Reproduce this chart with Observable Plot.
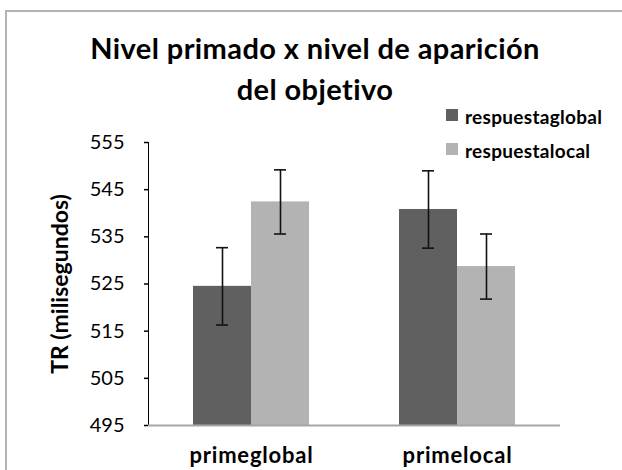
<!DOCTYPE html>
<html>
<head>
<meta charset="utf-8">
<script src="https://cdn.jsdelivr.net/npm/d3@7"></script>
<script src="https://cdn.jsdelivr.net/npm/@observablehq/plot@0.6"></script>
<style>
  html, body { margin: 0; padding: 0; background: #fff; }
  #wrap { position: relative; width: 622px; height: 470px; overflow: hidden; font-family: Lato, "Open Sans", sans-serif; }
  #frame { position: absolute; left: 5px; top: 10px; right: -10px; bottom: -10px; border-left: 2px solid #b3b3b3; border-top: 2px solid #b3b3b3; }
  #title { position: absolute; left: 0; width: 630px; top: 27px; text-align: center; font-weight: bold; font-size: 29px; line-height: 41px; color: #000; letter-spacing: 0.4px; }
  .leg { position: absolute; left: 446px; font-weight: bold; font-size: 19px; color: #000; white-space: nowrap; letter-spacing: 0.3px; }
  .leg span.sw { position: absolute; left: 0; width: 12px; height: 12px; }
  .leg span.tx { position: absolute; left: 19px; top: -4px; }
  #chart { position: absolute; left: 0; top: 0; }
</style>
</head>
<body>
<div id="wrap">
  <div id="frame"></div>
  <div id="chart"></div>
  <div id="title">Nivel primado x nivel de aparición<br>del objetivo</div>
  <div class="leg" style="top:109px"><span class="sw" style="background:#606060"></span><span class="tx">respuestaglobal</span></div>
  <div class="leg" style="top:143px"><span class="sw" style="background:#b3b3b3"></span><span class="tx">respuestalocal</span></div>
</div>
<script>
const groups = ["primeglobal", "primelocal"];
const series = ["respuestaglobal", "respuestalocal"];
const meansGlobal = [524.5, 540.8];
const meansLocal = [542.4, 528.7];
const errGlobal = [8.2, 8.2];
const errLocal = [6.8, 6.9];
const yTicks = [495, 505, 515, 525, 535, 545, 555];

const rows = [];
groups.forEach((g, i) => {
  rows.push({group: g, series: series[0], mean: meansGlobal[i], err: errGlobal[i]});
  rows.push({group: g, series: series[1], mean: meansLocal[i], err: errLocal[i]});
});

const chart = Plot.plot({
  width: 622,
  height: 470,
  marginTop: 142,
  marginBottom: 45,
  marginLeft: 147,
  marginRight: 62,
  style: {fontFamily: "Lato, 'Open Sans', sans-serif", fontSize: "20px", color: "#000", background: "transparent", overflow: "visible"},
  fx: {domain: groups, padding: 0, axis: "bottom", label: null, tickSize: 0, tickPadding: 22},
  x: {domain: series, paddingInner: 0, paddingOuter: 0.765, axis: null},
  y: {domain: [495, 555], ticks: yTicks, tickFormat: d => String(d), tickSize: 4, tickPadding: 20, line: true,
      label: "TR (milisegundos)", labelAnchor: "center", labelArrow: "none", labelOffset: 97},
  color: {domain: series, range: ["#606060", "#b3b3b3"]},
  marks: [
    Plot.barY(rows, {fx: "group", x: "series", y1: 495, y2: "mean", fill: "series"}),
    Plot.ruleY([495], {stroke: "#a6a6a6", strokeWidth: 2}),
    Plot.ruleX(rows, {fx: "group", x: "series", y1: d => d.mean - d.err, y2: d => d.mean + d.err, stroke: "#111", strokeWidth: 1.6}),
    Plot.tickY(rows, {fx: "group", x: "series", y: d => d.mean - d.err, stroke: "#111", strokeWidth: 1.6, insetLeft: 23, insetRight: 23}),
    Plot.tickY(rows, {fx: "group", x: "series", y: d => d.mean + d.err, stroke: "#111", strokeWidth: 1.6, insetLeft: 23, insetRight: 23})
  ]
});
document.getElementById("chart").appendChild(chart);
const svg = d3.select(chart);
svg.selectAll('[aria-label="y-axis tick"]').attr("stroke", "#a6a6a6").attr("stroke-width", 1.5);
svg.selectAll('[aria-label="y-axis line"]').attr("stroke", "#a6a6a6").attr("stroke-width", 2);
svg.selectAll('[aria-label="y-axis label"]').attr("font-weight", "bold").attr("font-size", "23px");
svg.selectAll('[aria-label="fx-axis tick label"]').attr("font-weight", "bold").attr("font-size", "22px").attr("letter-spacing", "0.8px");
</script>
</body>
</html>
